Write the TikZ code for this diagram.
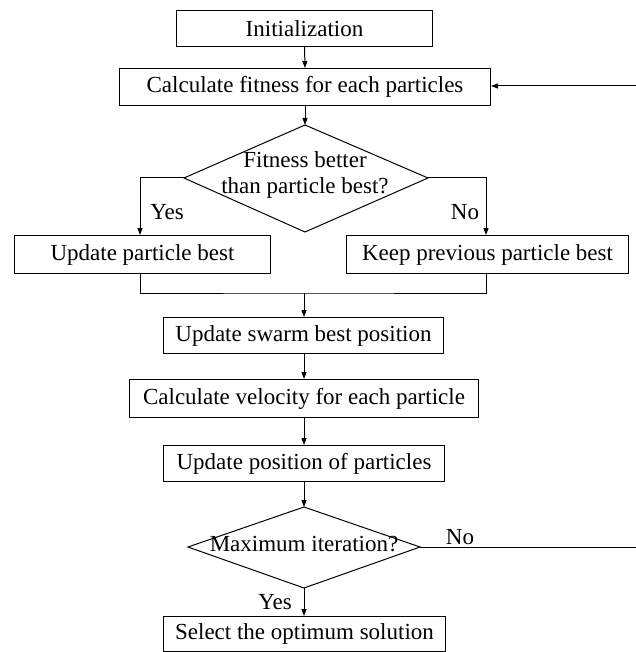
\documentclass[tikz,border=0pt]{standalone}
\usepackage{fontspec}
\setmainfont{Liberation Serif}
\usetikzlibrary{arrows.meta}
\begin{document}
\begin{tikzpicture}[x=1pt,y=-1pt,
  every node/.style={font=\fontsize{23}{26}\selectfont, inner sep=0pt},
  procbox/.style={draw, line width=1pt, anchor=north west},
  conn/.style={line width=1pt},
  arr/.style={conn, -{Triangle[length=7pt,width=5pt]}},
  lbl/.style={font=\fontsize{23}{26}\selectfont}]
\useasboundingbox (0,0) rectangle (635,652);

% boxes given by corners
\newcommand{\mybox}[6]{%
  \node[procbox, minimum width=#4-#2, minimum height=#5-#3] (#1) at (#2,#3) {};
  \node at (#1.center) {#6};}

\mybox{init}{176}{10}{432}{46}{Initialization}
\mybox{fit}{119}{68}{490}{105}{Calculate fitness for each particles}
\mybox{upb}{14}{235}{270}{273}{Update particle best}
\mybox{kpb}{346}{235}{628}{273}{Keep previous particle best}
\mybox{swarm}{163}{317}{443}{353}{Update swarm best position}
\mybox{vel}{129}{379}{478}{417}{Calculate velocity for each particle}
\mybox{pos}{163}{445}{444}{481}{Update position of particles}
\mybox{sel}{163}{616}{445}{651}{Select the optimum solution}

% decision 1
\coordinate (d1t) at (305,125);
\coordinate (d1l) at (184,178);
\coordinate (d1r) at (428,178);
\coordinate (d1b) at (305,232);
\draw[conn] (d1t) -- (d1r) -- (d1b) -- (d1l) -- cycle;
\node[align=center] (d1txt) at (305,175) {Fitness better\\than particle best?};

% decision 2
\coordinate (d2t) at (304,507);
\coordinate (d2l) at (188,547);
\coordinate (d2r) at (420,547);
\coordinate (d2b) at (304,588);
\draw[conn] (d2t) -- (d2r) -- (d2b) -- (d2l) -- cycle;
\node (d2txt) at (304,544) {Maximum iteration?};

% connectors
\draw[arr] (init.south) -- (fit.north);
\draw[arr] (fit.south -| d1t) -- (d1t);
\draw[arr] (d1l) -| (upb.north -| 140,0);
\draw[arr] (d1r) -| (kpb.north -| 486,0);
\coordinate (mrg) at (304,293);
\draw[conn] (upb.south -| 140,0) |- (mrg) -| (kpb.south -| 486,0);
\draw[arr] (mrg) -- (swarm.north -| mrg);
\draw[arr] (swarm.south -| mrg) -- (vel.north -| mrg);
\draw[arr] (vel.south -| mrg) -- (pos.north -| mrg);
\draw[arr] (pos.south -| d2t) -- (d2t);
\draw[arr] (d2b) -- (sel.north -| d2b);
\coordinate (loopb) at (642,547);
\coordinate (loopt) at (642,86);
\draw[arr] (d2r) -- (loopb) -- (loopt) -- (fit.east |- loopt);

% labels
\node[lbl] (yes1) at (167,212) {Yes};
\node[lbl] (no1) at (465,212) {No};
\node[lbl] (yes2) at (275,602) {Yes};
\node[lbl] (no2) at (460,537) {No};
\end{tikzpicture}
\end{document}
